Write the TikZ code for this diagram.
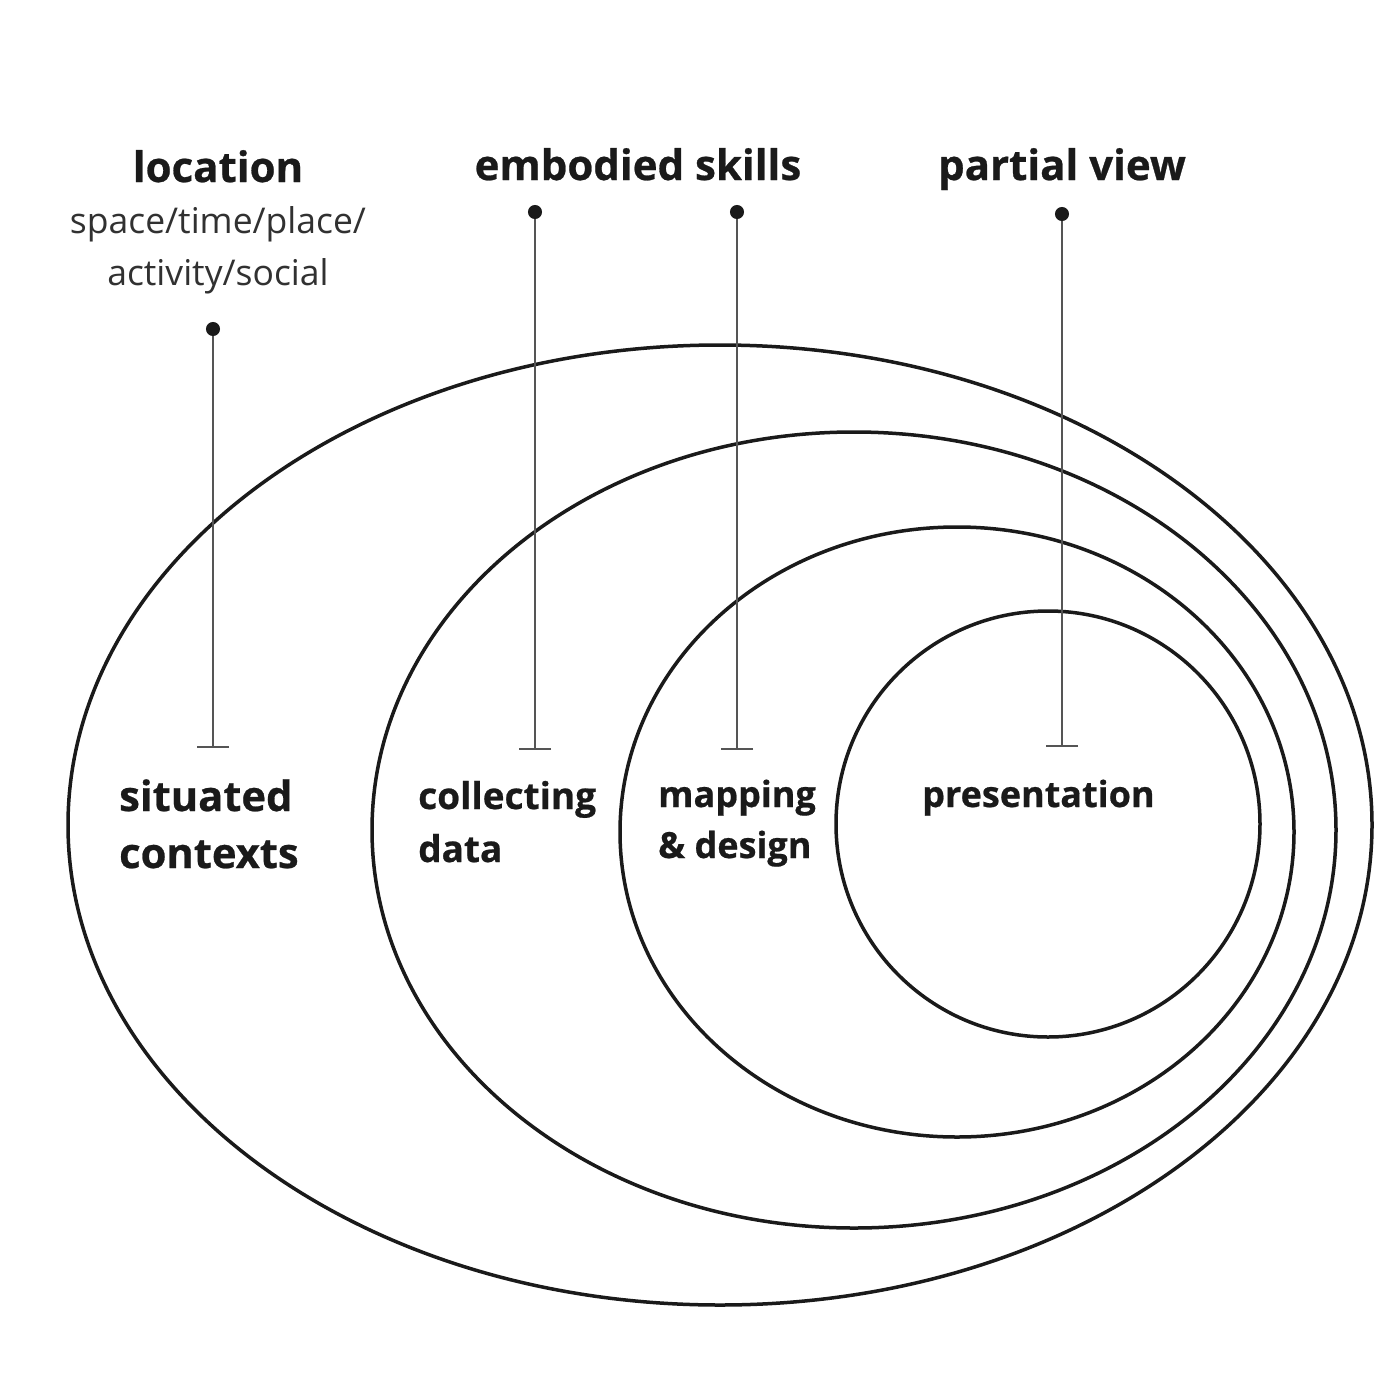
\documentclass[tikz,border=0pt]{standalone}
\usepackage{fontspec}
\setmainfont{Open Sans}[BoldFont={Open Sans Bold},BoldFeatures={FakeBold=0.6}]
\usetikzlibrary{arrows.meta}
\definecolor{ink}{HTML}{1A1A1A}
\definecolor{conncol}{HTML}{555555}
\begin{document}
\begin{tikzpicture}[x=1pt,y=-1pt,
  ring/.style={draw=ink,line width=3.5pt},
  conn/.style={draw=conncol,line width=2.3pt,{Circle[length=14pt,width=14pt,fill=ink,color=ink]}-{Bar[width=32pt,line width=2.3pt]}},
  head/.style={font=\fontsize{42}{50}\selectfont\bfseries,text=ink,anchor=base,inner sep=0pt},
  sub/.style={font=\fontsize{35.5}{51}\selectfont,text=ink!90,anchor=base,inner sep=0pt},
  lab/.style={text=ink,anchor=base west,inner sep=0pt,align=left}]
\useasboundingbox[fill=white] (0,0) rectangle (1400,1400);
% rings
\draw[ring] (720,825) ellipse [x radius=652, y radius=480];
\draw[ring] (854,830) ellipse [x radius=482, y radius=398];
\draw[ring] (957,832) ellipse [x radius=337, y radius=305];
\draw[ring] (1048,824) ellipse [x radius=212, y radius=213];
% headings
\node[head] (location) at (218,182) {location};
\node[sub] (locsub1) at (218,233) {space/time/place/};
\node[sub] (locsub2) at (218,285) {activity/social};
\node[head] (embodied) at (638,180) {embodied skills};
\node[head] (partial) at (1062,180) {partial view};
% connectors
\coordinate (d1) at (213,322); \coordinate (t1) at (213,748);
\coordinate (d2) at (535,205); \coordinate (t2) at (535,750);
\coordinate (d3) at (737,205); \coordinate (t3) at (737,750);
\coordinate (d4) at (1062,207); \coordinate (t4) at (1062,747);
\draw[conn] (d1) -- (t1);
\draw[conn] (d2) -- (t2);
\draw[conn] (d3) -- (t3);
\draw[conn] (d4) -- (t4);
% labels (base anchor = last line)
\node[lab,font=\fontsize{41.7}{57}\selectfont\bfseries] (situated) at (119,868) {situated\\contexts};
\node[lab,font=\fontsize{37}{53}\selectfont\bfseries] (collecting) at (418,862) {collecting\\data};
\node[lab,font=\fontsize{36}{51}\selectfont\bfseries] (mapping) at (658,858) {mapping\\\& design};
\node[lab,font=\fontsize{36}{51}\selectfont\bfseries] (presentation) at (922,807) {presentation};
\end{tikzpicture}
\end{document}
